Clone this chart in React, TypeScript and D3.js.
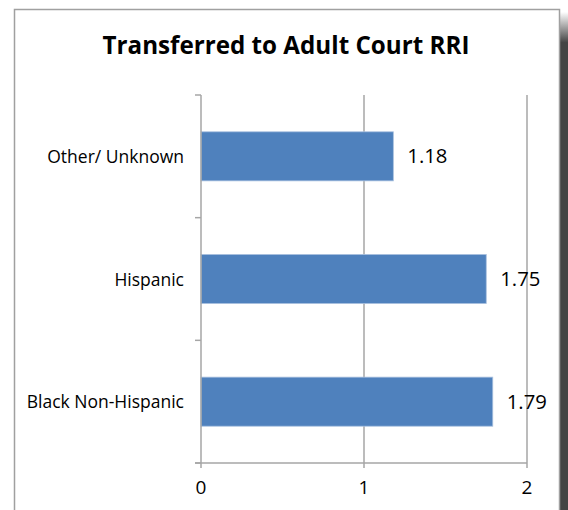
import React from "react";
import * as d3 from "d3";

const categories = ["Other/ Unknown", "Hispanic", "Black Non-Hispanic"];
const values = [1.18, 1.75, 1.79];
const valueLabels = ["1.18", "1.75", "1.79"];
const xTicks = [0, 1, 2];
const title = "Transferred to Adult Court RRI";

export default function App() {
  const W = 568, H = 510;
  const left = 201, right = 527, top = 95, bottom = 463;
  const x = d3.scaleLinear().domain([0, 2]).range([left, right]);
  const y = d3.scaleBand().domain(categories).range([top, bottom]).paddingInner(0.6).paddingOuter(0.3);
  const band = (bottom - top) / categories.length;
  const font = "'Open Sans', 'Liberation Sans', Arial, sans-serif";
  const grid = "#a6a6a6";
  return (
    <svg width={W} height={H} style={{ position: "absolute", left: 0, top: 0 }} fontFamily={font}>
      <defs>
        <linearGradient id="sh" x1="0" y1="0" x2="0" y2="1">
          <stop offset="0" stopColor="#ffffff" />
          <stop offset="0.06" stopColor="#444" />
          <stop offset="1" stopColor="#444" />
        </linearGradient>
      </defs>
      <rect x={0} y={0} width={W} height={H} fill="#fff" />
      <rect x={560} y={12} width={8} height={H} fill="url(#sh)" />
      <rect x={14.5} y={9.5} width={545} height={H} fill="#fff" stroke="#a0a0a0" strokeWidth={1.5} />
      <text x={286} y={54} textAnchor="middle" fontSize={24.2} fontWeight="bold" fill="#000">{title}</text>
      {xTicks.filter(t => t > 0).map(t => (
        <line key={t} x1={x(t)} x2={x(t)} y1={top} y2={bottom} stroke={grid} strokeWidth={1.5} />
      ))}
      {categories.map((c, i) => (
        <rect key={c} x={x(0)} y={y(c)!} width={x(values[i]) - x(0)} height={y.bandwidth()}
          fill="#4f81bd" stroke="#a9c1df" strokeWidth={0.8} />
      ))}
      {categories.map((c, i) => (
        <text key={c} x={x(values[i]) + 14} y={y(c)! + y.bandwidth() / 2 + 7} fontSize={20.3} fill="#000">{valueLabels[i]}</text>
      ))}
      {categories.map((c) => (
        <text key={c} x={184} y={y(c)! + y.bandwidth() / 2 + 6.5} textAnchor="end" fontSize={17.5} fill="#000">{c}</text>
      ))}
      <line x1={left} x2={left} y1={top} y2={bottom} stroke={grid} strokeWidth={1.5} />
      {d3.range(categories.length + 1).map(i => (
        <line key={i} x1={left - 6} x2={left} y1={top + i * band} y2={top + i * band} stroke={grid} strokeWidth={1.5} />
      ))}
      <line x1={left - 6} x2={right} y1={bottom} y2={bottom} stroke={grid} strokeWidth={1.5} />
      {xTicks.map(t => (
        <g key={t}>
          <line x1={x(t)} x2={x(t)} y1={bottom} y2={bottom + 5} stroke={grid} strokeWidth={1.5} />
          <text x={x(t)} y={493.5} textAnchor="middle" fontSize={19} fill="#000">{t}</text>
        </g>
      ))}
    </svg>
  );
}
